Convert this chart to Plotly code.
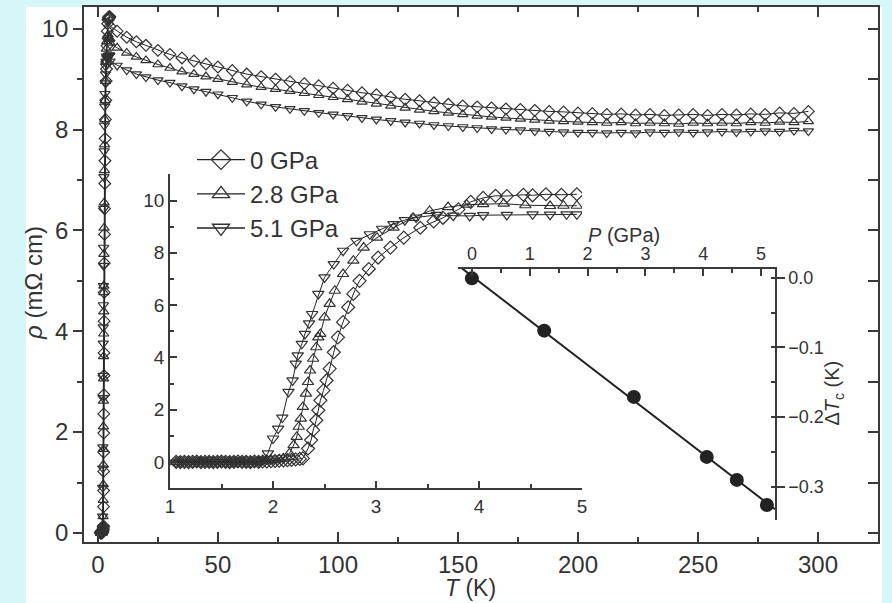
import numpy as np
import plotly.graph_objects as go

# ---------------- data ----------------
series_names = ["0 GPa", "2.8 GPa", "5.1 GPa"]

# low-temperature superconducting transition (inset 1 and low-T part of main panel)
flat_T = [1.06, 1.10, 1.14, 1.18, 1.22, 1.26, 1.30, 1.34, 1.38, 1.42, 1.46,
          1.50, 1.54, 1.58, 1.62, 1.66, 1.70, 1.74, 1.78, 1.82, 1.86, 1.90]
flat_r0 = [0.01, 0.00, 0.01, 0.00, 0.01, 0.02, 0.00, 0.01, 0.01, 0.00, 0.01,
           0.02, 0.01, 0.00, 0.01, 0.02, 0.01, 0.01, 0.00, 0.02, 0.01, 0.02]
flat_r28 = [0.00, 0.01, 0.00, 0.01, 0.00, 0.01, 0.01, 0.00, 0.02, 0.01, 0.00,
            0.01, 0.00, 0.01, 0.02, 0.00, 0.01, 0.02, 0.01, 0.01, 0.02, 0.03]
flat_r51 = [-0.02, -0.01, -0.02, -0.01, -0.02, 0.00, -0.01, -0.02, -0.01, 0.00, -0.01,
            -0.02, -0.01, -0.01, 0.00, -0.01, -0.02, -0.01, 0.00, 0.01, 0.02, 0.08]

T0_rise = [1.94, 1.98, 2.02, 2.06, 2.10, 2.14, 2.18, 2.22, 2.26, 2.29, 2.34, 2.37,
           2.39, 2.42, 2.44, 2.46, 2.49, 2.52, 2.55, 2.59, 2.63, 2.68, 2.73, 2.78,
           2.84, 2.93, 3.02, 3.14, 3.27, 3.43, 3.56, 3.65, 3.80, 3.92, 4.04, 4.16,
           4.27, 4.43, 4.52, 4.65, 4.80, 4.95]
r0_rise = [0.02, 0.03, 0.04, 0.05, 0.06, 0.07, 0.08, 0.10, 0.12, 0.14, 0.52, 0.84,
           1.22, 1.60, 1.98, 2.36, 2.74, 3.12, 3.57, 4.20, 4.77, 5.35, 5.92, 6.43,
           6.93, 7.38, 7.82, 8.20, 8.58, 8.96, 9.20, 9.34, 9.66, 9.95, 10.10, 10.18,
           10.17, 10.22, 10.20, 10.24, 10.22, 10.24]

T28_rise = [1.94, 1.98, 2.02, 2.06, 2.10, 2.16, 2.20, 2.23, 2.25, 2.27, 2.29, 2.32,
            2.34, 2.36, 2.39, 2.42, 2.44, 2.46, 2.50, 2.55, 2.60, 2.68, 2.78, 2.88,
            3.01, 3.17, 3.36, 3.52, 3.70, 3.88, 4.04, 4.24, 4.45, 4.69, 4.82, 4.95]
r28_rise = [0.03, 0.05, 0.07, 0.10, 0.14, 0.33, 0.65, 0.96, 1.35, 1.66, 2.11, 2.62,
            3.06, 3.50, 3.95, 4.39, 4.77, 4.90, 5.53, 6.05, 6.55, 7.19, 7.70, 8.20,
            8.58, 8.96, 9.34, 9.60, 9.75, 9.84, 9.86, 9.88, 9.82, 9.79, 9.80, 9.80]

T51_rise = [1.95, 2.00, 2.05, 2.09, 2.15, 2.19, 2.22, 2.24, 2.28, 2.31, 2.35, 2.38,
            2.44, 2.50, 2.59, 2.68, 2.81, 2.94, 3.06, 3.17, 3.28, 3.39, 3.59, 3.75,
            3.91, 4.04, 4.27, 4.52, 4.69, 4.85, 4.95]
r51_rise = [0.33, 0.90, 1.28, 1.70, 2.68, 3.12, 3.76, 4.08, 4.52, 4.90, 5.30, 5.66,
            6.43, 7.06, 7.57, 8.08, 8.46, 8.71, 8.92, 9.10, 9.25, 9.35, 9.45, 9.42,
            9.41, 9.44, 9.45, 9.47, 9.46, 9.47, 9.47]

# normal-state resistivity (main panel, T >= 5 K)
T_high = [5, 8, 12, 16, 20, 25, 30, 35, 40, 45, 50, 56, 62, 68, 74, 80, 86, 92, 98,
          104, 110, 116, 122, 128, 134, 140, 146, 152, 158, 164, 170, 176, 182, 188,
          194, 200, 206, 212, 218, 224, 230, 236, 242, 248, 254, 260, 266, 272, 278,
          284, 290, 296]
r0_high = [10.05, 9.95, 9.83, 9.74, 9.67, 9.57, 9.49, 9.42, 9.36, 9.30, 9.24, 9.17,
           9.10, 9.05, 9.00, 8.95, 8.91, 8.87, 8.82, 8.78, 8.73, 8.69, 8.64, 8.60,
           8.57, 8.53, 8.50, 8.47, 8.45, 8.43, 8.41, 8.40, 8.38, 8.36, 8.35, 8.33,
           8.32, 8.30, 8.31, 8.29, 8.30, 8.28, 8.29, 8.30, 8.28, 8.30, 8.29, 8.31,
           8.30, 8.33, 8.32, 8.36]
r28_high = [9.72, 9.62, 9.52, 9.44, 9.37, 9.29, 9.22, 9.15, 9.10, 9.05, 9.00, 8.94,
            8.89, 8.84, 8.80, 8.76, 8.72, 8.68, 8.64, 8.60, 8.55, 8.51, 8.47, 8.43,
            8.39, 8.36, 8.33, 8.30, 8.27, 8.25, 8.23, 8.21, 8.19, 8.17, 8.16, 8.15,
            8.14, 8.13, 8.14, 8.12, 8.13, 8.12, 8.11, 8.13, 8.12, 8.13, 8.12, 8.14,
            8.13, 8.15, 8.14, 8.16]
r51_high = [9.35, 9.27, 9.18, 9.10, 9.04, 8.98, 8.93, 8.86, 8.80, 8.75, 8.70, 8.63,
            8.56, 8.50, 8.45, 8.41, 8.37, 8.33, 8.30, 8.27, 8.23, 8.20, 8.17, 8.14,
            8.12, 8.09, 8.07, 8.05, 8.03, 8.01, 8.00, 7.99, 7.97, 7.96, 7.95, 7.94,
            7.94, 7.93, 7.94, 7.93, 7.95, 7.94, 7.95, 7.94, 7.95, 7.96, 7.95, 7.96,
            7.97, 7.96, 7.98, 7.97]

# Tc shift vs pressure (inset 2)
P_gpa = [0.0, 1.25, 2.80, 4.06, 4.58, 5.10]
dTc_K = [-0.001, -0.076, -0.171, -0.257, -0.290, -0.326]

# axis ranges
main_x_range = [-5.8, 325]
main_y_range = [-0.18, 10.43]
in1_x_range = [1, 5]
in1_y_range = [-1, 11]
in2_x_range = [-0.24, 5.24]
in2_y_range = [-0.3476, 0.0124]

# ---------------- layout helpers ----------------
W, H = 892, 603
PL, PR, PT, PB = 84, 878, 5, 542  # main plot area in pixels


def fx(p):
    return (p - PL) / (PR - PL)


def fy(p):
    return (PB - p) / (PB - PT)


INK = "#3a3a3a"
FONT = "Liberation Sans, Arial, Helvetica, sans-serif"
symbols = ["diamond-open", "triangle-up-open", "triangle-down-open"]

lowT = [flat_T + T0_rise, flat_T + T28_rise, flat_T + T51_rise]
lowR = [flat_r0 + r0_rise, flat_r28 + r28_rise, flat_r51 + r51_rise]
highR = [r0_high, r28_high, r51_high]

fig = go.Figure()

# main panel
for i, name in enumerate(series_names):
    fig.add_trace(go.Scatter(
        x=lowT[i] + T_high, y=lowR[i] + highR[i], name=name,
        mode="lines+markers", xaxis="x", yaxis="y",
        line=dict(color="#222", width=1),
        marker=dict(symbol=symbols[i], size=9, color="#333",
                    line=dict(color="#333", width=1.2)),
        showlegend=False,
    ))

# legend entries (larger symbols, as in the original key)
for i, name in enumerate(series_names):
    fig.add_trace(go.Scatter(
        x=[None], y=[None], name=name, mode="lines+markers", xaxis="x", yaxis="y",
        line=dict(color="#222", width=1.3),
        marker=dict(symbol=symbols[i], size=15, color="#333",
                    line=dict(color="#333", width=1.3)),
        showlegend=True,
    ))

# dummy trace for right-hand tick axis of main panel
fig.add_trace(go.Scatter(x=[main_x_range[0]], y=[main_y_range[0]], xaxis="x", yaxis="y4",
                         mode="markers", marker=dict(opacity=0), showlegend=False,
                         hoverinfo="skip"))

# inset 1
for i, name in enumerate(series_names):
    fig.add_trace(go.Scatter(
        x=lowT[i], y=lowR[i], name=name, mode="lines+markers",
        xaxis="x2", yaxis="y2",
        line=dict(color="#222", width=1),
        marker=dict(symbol=symbols[i], size=10, color="#333",
                    line=dict(color="#333", width=1.2)),
        showlegend=False,
    ))

# inset 2: data + linear fit
coef = np.polyfit(P_gpa, dTc_K, 1)
fitP = np.array(in2_x_range)
fig.add_trace(go.Scatter(x=fitP, y=np.polyval(coef, fitP), mode="lines",
                         xaxis="x3", yaxis="y3", line=dict(color="#222", width=2),
                         showlegend=False))
fig.add_trace(go.Scatter(x=P_gpa, y=dTc_K, mode="markers", xaxis="x3", yaxis="y3",
                         marker=dict(symbol="circle", size=14, color="#222"),
                         showlegend=False))

common = dict(showgrid=False, zeroline=False, showline=True, linecolor=INK,
              tickcolor=INK, linewidth=1.5, tickwidth=1.5)

fig.update_layout(
    width=W, height=H,
    margin=dict(l=PL, r=W - PR, t=PT, b=H - PB),
    paper_bgcolor="#d6f7fa", plot_bgcolor="rgba(0,0,0,0)",
    font=dict(family=FONT, color="#333"),
    xaxis=dict(domain=[0, 1], range=main_x_range, anchor="y", ticks="inside",
               ticklen=10, dtick=50, tick0=0, mirror="ticks",
               minor=dict(dtick=25, ticklen=5, ticks="inside", tickcolor=INK),
               tickfont=dict(size=24), **common),
    yaxis=dict(domain=[0, 1], range=main_y_range, anchor="x", ticks="outside",
               ticklen=9, dtick=2, tick0=0,
               minor=dict(dtick=1, ticklen=5, ticks="outside", tickcolor=INK),
               tickfont=dict(size=24), **common),
    yaxis4=dict(overlaying="y", side="right", range=main_y_range, anchor="x",
                ticks="inside", ticklen=10, dtick=1, tick0=0, showticklabels=False,
                **common),
    xaxis2=dict(domain=[fx(170), fx(582)], range=in1_x_range, anchor="y2",
                ticks="inside", ticklen=7, dtick=1, tick0=0,
                minor=dict(dtick=0.5, ticklen=4, ticks="inside", tickcolor=INK),
                tickfont=dict(size=19), **common),
    yaxis2=dict(domain=[fy(488), fy(173)], range=in1_y_range, anchor="x2",
                ticks="inside", ticklen=7, dtick=2, tick0=0,
                minor=dict(dtick=1, ticklen=4, ticks="inside", tickcolor=INK),
                tickfont=dict(size=19), **common),
    xaxis3=dict(domain=[fx(458), fx(775)], range=in2_x_range, anchor="y3", side="top",
                ticks="inside", ticklen=7, dtick=1, tick0=0,
                minor=dict(dtick=0.5, ticklen=4, ticks="inside", tickcolor=INK),
                tickfont=dict(size=18), **common),
    yaxis3=dict(domain=[fy(520), fy(268)], range=in2_y_range, anchor="x3", side="right",
                ticks="outside", ticklen=8, dtick=0.1, tick0=0, tickformat=".1f",
                minor=dict(dtick=0.05, ticklen=4, ticks="inside", tickcolor=INK),
                tickfont=dict(size=18), **common),
    legend=dict(x=fx(192), y=fy(136), xanchor="left", yanchor="top",
                bgcolor="rgba(0,0,0,0)", font=dict(size=24, color="#333"),
                itemwidth=48, tracegroupgap=0),
    shapes=[dict(type="rect", xref="paper", yref="paper", layer="below",
                 x0=fx(26), x1=fx(882), y0=fy(603), y1=fy(5),
                 fillcolor="white", line=dict(width=0))],
    annotations=[
        dict(text="<i>T</i> (K)", xref="paper", yref="paper", x=fx(470), y=fy(588),
             showarrow=False, font=dict(size=23), xanchor="center", yanchor="middle"),
        dict(text="<i>ρ</i> (mΩ cm)", xref="paper", yref="paper", x=fx(34), y=fy(282),
             showarrow=False, font=dict(size=24), textangle=-90,
             xanchor="center", yanchor="middle"),
        dict(text="<i>P</i> (GPa)", xref="paper", yref="paper", x=fx(624), y=fy(234),
             showarrow=False, font=dict(size=20), xanchor="center", yanchor="middle"),
        dict(text="Δ<i>T</i><sub>c</sub> (K)", xref="paper", yref="paper", x=fx(834),
             y=fy(393), showarrow=False, font=dict(size=20), textangle=-90,
             xanchor="center", yanchor="middle"),
    ],
)

fig.write_html("out.html", config={"displayModeBar": False},
               post_script="document.body.style.margin='0px';")
